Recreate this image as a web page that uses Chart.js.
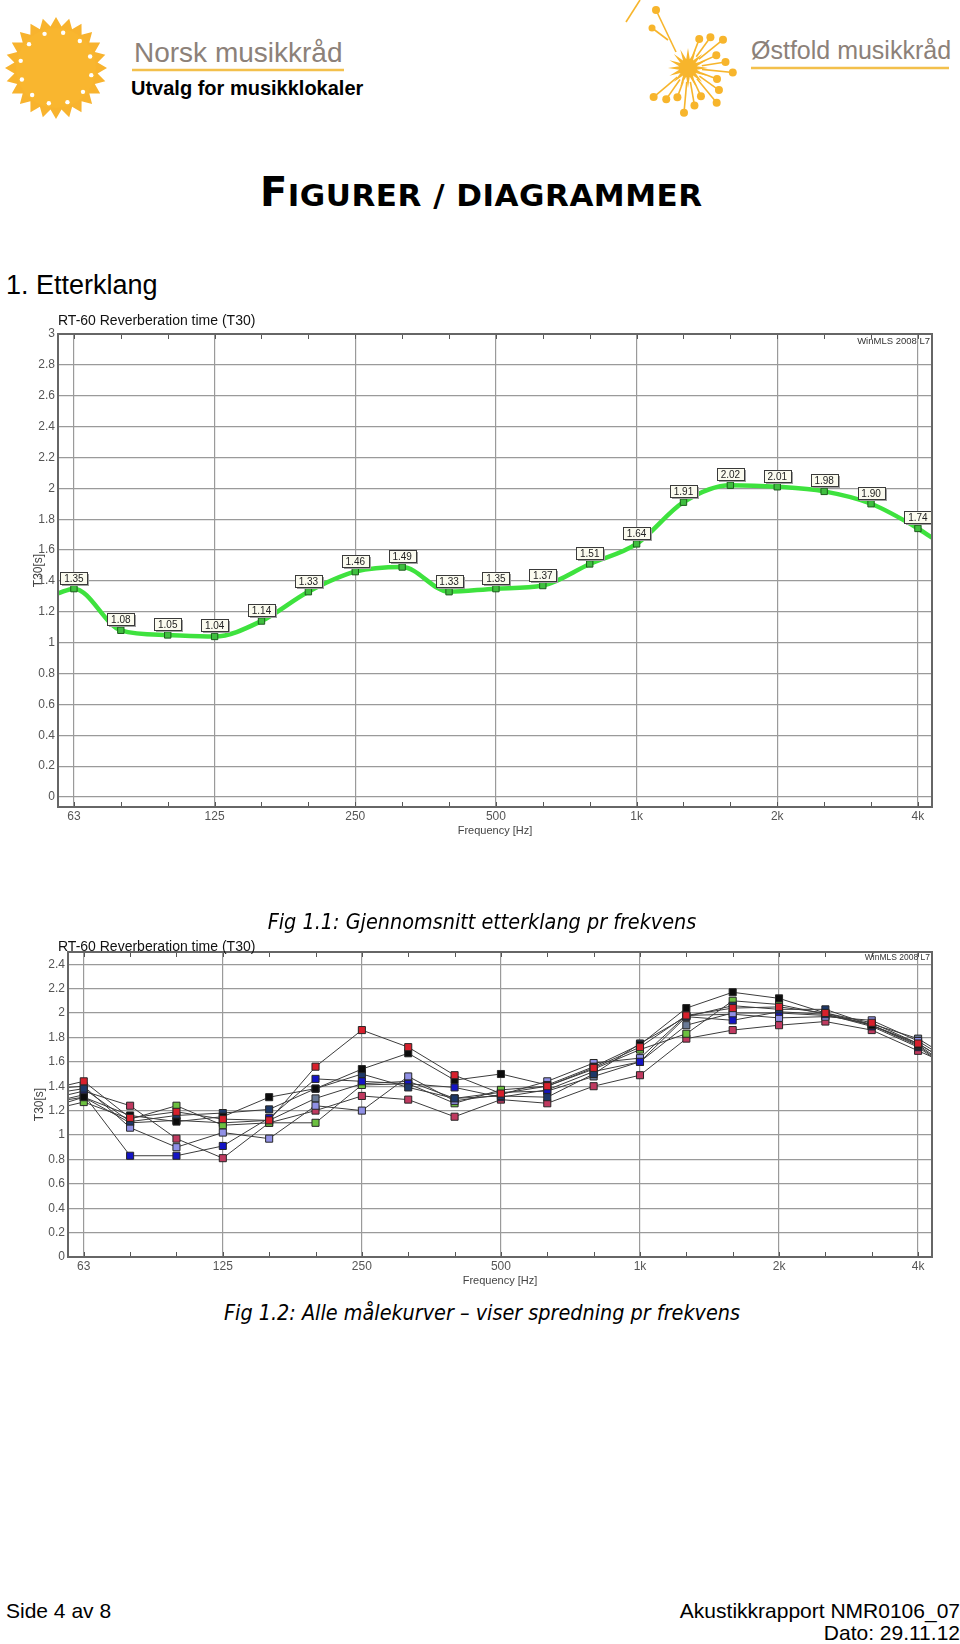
<!DOCTYPE html>
<html>
<head>
<meta charset="utf-8">
<script src="https://cdn.jsdelivr.net/npm/chart.js@4/dist/chart.umd.min.js"></script>
<style>
  body { margin: 0; background: #fff; }
  #page { position: relative; width: 960px; height: 1644px; overflow: hidden; background: #fff;
          font-family: "Liberation Sans", Arial, sans-serif; color: #000; }
  .t { position: absolute; white-space: nowrap; line-height: 1; transform: translateY(-50%); }
  .cap { left: 2px; width: 960px; text-align: center; font-style: italic; font-size: 21.4px;
         font-family: "DejaVu Sans Condensed", "DejaVu Sans", sans-serif; }
  .ct { font-size: 14px; color: #111; left: 58px; }
  .mls { font-size: 9.5px; color: #333; }
  .foot { font-size: 21px; }
  .head { font-family: "DejaVu Sans", Verdana, sans-serif; font-weight: bold; font-size: 31px; letter-spacing: 0.5px; }
  .head b { font-size: 40px; }
  canvas { position: absolute; left: 0; }
</style>
</head>
<body>
<div id="page">
  <svg id="logos" width="960" height="130" style="position:absolute;left:0;top:0"></svg>

  <div class="t" style="left:134px;top:53px;font-size:28px;color:#8c8179">Norsk musikkråd</div>
  <div class="t" style="left:131px;top:88px;font-size:20px;font-weight:bold">Utvalg for musikklokaler</div>
  <div class="t" style="left:751px;top:50px;font-size:25px;color:#8c8179">Østfold musikkråd</div>

  <div class="t head" style="left:260px;top:192px"><b>F</b>IGURER / DIAGRAMMER</div>
  <div class="t" style="left:6px;top:285px;font-size:27px">1. Etterklang</div>

  <canvas id="avgChart" width="960" height="545" style="top:300px"></canvas>
  <canvas id="allChart" width="960" height="370" style="top:930px"></canvas>

  <div class="t ct" style="top:320px">RT-60 Reverberation time (T30)</div>
  <div class="t mls" style="right:30px;top:341px">WinMLS 2008 L7</div>
  <div class="t cap" style="top:922px">Fig 1.1: Gjennomsnitt etterklang pr frekvens</div>

  <div class="t ct" style="top:946px">RT-60 Reverberation time (T30)</div>
  <div class="t mls" style="right:30px;top:957px;font-size:8.5px">WinMLS 2008 L7</div>
  <div class="t cap" style="top:1313px">Fig 1.2: Alle målekurver – viser spredning pr frekvens</div>

  <div class="t foot" style="left:6px;top:1610px">Side 4 av 8</div>
  <div class="t foot" style="right:0;top:1610px">Akustikkrapport NMR0106_07</div>
  <div class="t foot" style="right:0;top:1632px">Dato: 29.11.12</div>
</div>

<script>
// ── Data ─────────────────────────────────────────────────
// 1/3-octave bands, 63 Hz .. 4 kHz (x = band index)
const bands = ['63','80','100','125','160','200','250','315','400','500','630','800','1k','1.25k','1.6k','2k','2.5k','3.15k','4k'];
const xTickLabels = ['63','','','125','','','250','','','500','','','1k','','','2k','','','4k'];
const xMin = -0.34, xMax = 18.3;

const yTicksAvg = [0,0.2,0.4,0.6,0.8,1,1.2,1.4,1.6,1.8,2,2.2,2.4,2.6,2.8,3];
const yTicksAll = [0,0.2,0.4,0.6,0.8,1,1.2,1.4,1.6,1.8,2,2.2,2.4];

// Fig 1.1 average T30 [s]
const avgT30  = [1.35,1.08,1.05,1.04,1.14,1.33,1.46,1.49,1.33,1.35,1.37,1.51,1.64,1.91,2.02,2.01,1.98,1.90,1.74];
const avgEdge = [1.32, 1.68];   // where the curve meets the left / right frame

// Fig 1.2 individual measurements T30 [s]
const mRed      = [1.44,1.14,1.19,1.13,1.12,1.56,1.86,1.72,1.49,1.34,1.40,1.55,1.72,1.98,2.04,2.05,2.00,1.92,1.75];
const mBlack    = [1.31,1.16,1.11,1.15,1.31,1.38,1.54,1.67,1.45,1.50,1.41,1.56,1.74,2.04,2.17,2.12,2.00,1.90,1.74];
const mNavy     = [1.38,1.11,1.16,1.18,1.21,1.38,1.50,1.39,1.30,1.32,1.31,1.50,1.75,1.97,2.06,2.03,2.03,1.90,1.73];
const mBlue     = [1.33,0.83,0.83,0.91,1.14,1.46,1.44,1.42,1.39,1.31,1.37,1.52,1.60,1.97,1.94,2.01,1.99,1.89,1.72];
const mLavender = [1.40,1.06,0.90,1.02,0.97,1.24,1.20,1.48,1.28,1.33,1.44,1.59,1.63,1.98,1.99,1.96,1.97,1.94,1.77];
const mGreen    = [1.27,1.13,1.24,1.08,1.10,1.10,1.41,1.42,1.26,1.37,1.40,1.54,1.70,1.83,2.10,2.07,1.99,1.90,1.75];
const mRose     = [1.36,1.24,0.97,0.81,1.10,1.20,1.32,1.29,1.15,1.29,1.26,1.40,1.49,1.79,1.86,1.90,1.93,1.86,1.69];
const mSteel    = [1.31,1.10,1.12,1.10,1.12,1.30,1.42,1.44,1.30,1.35,1.36,1.48,1.60,1.90,2.00,2.00,1.98,1.91,1.79];
// curve ends at the left / right frame
const edgeLeft  = [1.41,1.27,1.36,1.30,1.39,1.24,1.33,1.29];
const edgeRight = [1.68,1.66,1.65,1.64,1.70,1.68,1.64,1.72];

const series = [
  { vals: mRed,      color: '#d8202c' },
  { vals: mBlack,    color: '#0c0c0c' },
  { vals: mNavy,     color: '#1d3868' },
  { vals: mBlue,     color: '#1414c4' },
  { vals: mLavender, color: '#9090e6' },
  { vals: mGreen,    color: '#6cc040' },
  { vals: mRose,     color: '#c03a60' },
  { vals: mSteel,    color: '#6a7a96' }
];

// ── Logos (decoration) ───────────────────────────────────
(function drawLogos() {
  const svg = document.getElementById('logos');
  const ns = 'http://www.w3.org/2000/svg';
  const el = (tag, attrs) => { const e = document.createElementNS(ns, tag); for (const k in attrs) e.setAttribute(k, attrs[k]); svg.appendChild(e); return e; };
  // sun
  let pts = [];
  for (let i = 0; i < 48; i++) {
    const a = i * Math.PI / 24, r = i % 2 ? 42 : 51;
    pts.push((56 + r * Math.cos(a)).toFixed(1) + ',' + (68 + r * Math.sin(a)).toFixed(1));
  }
  el('polygon', { points: pts.join(' '), fill: '#f8b32e' });
  el('circle', { cx: 56, cy: 68, r: 40, fill: '#f9b62f' });
  for (let i = 0; i < 12; i++) {
    const a = i * Math.PI / 6 + 0.2;
    el('circle', { cx: 56 + 36 * Math.cos(a), cy: 68 + 36 * Math.sin(a), r: 2.2, fill: '#fff' });
  }
  el('line', { x1: 132, y1: 70, x2: 344, y2: 70, stroke: '#f3c04c', 'stroke-width': 2.5 });
  el('line', { x1: 751, y1: 68, x2: 949, y2: 68, stroke: '#f3c04c', 'stroke-width': 2.5 });
  // dandelion
  const cx = 688, cy = 68;
  pts = [];
  for (let i = 0; i < 32; i++) {
    const a = i * Math.PI / 16, r = i % 2 ? 9 : 20;
    pts.push((cx + r * Math.cos(a)).toFixed(1) + ',' + (cy + r * Math.sin(a)).toFixed(1));
  }
  el('polygon', { points: pts.join(' '), fill: '#f7b52c' });
  for (let i = 0; i < 15; i++) {
    const a = -1.2 + i * 0.26, r = 31 + (i % 3) * 7;
    const ex = cx + r * Math.cos(a), ey = cy + r * Math.sin(a);
    el('line', { x1: cx + 14 * Math.cos(a), y1: cy + 14 * Math.sin(a), x2: ex, y2: ey, stroke: '#f7b52c', 'stroke-width': 1.6 });
    el('circle', { cx: ex, cy: ey, r: 4, fill: '#f7b52c' });
  }
  el('line', { x1: 676, y1: 52, x2: 656, y2: 10, stroke: '#f7b52c', 'stroke-width': 1.6 });
  el('circle', { cx: 656, cy: 10, r: 4, fill: '#f7b52c' });
  el('line', { x1: 626, y1: 22, x2: 640, y2: 0, stroke: '#f7b52c', 'stroke-width': 1.6 });
  el('line', { x1: 668, y1: 40, x2: 652, y2: 28, stroke: '#f7b52c', 'stroke-width': 1.6 });
  el('circle', { cx: 652, cy: 28, r: 3.5, fill: '#f7b52c' });
})();

// ── Plugins ──────────────────────────────────────────────
const framePlugin = {
  id: 'frame',
  afterDraw(chart) {
    const { ctx, chartArea: a, scales: { x } } = chart;
    ctx.save();
    ctx.strokeStyle = '#555';
    ctx.lineWidth = 1;
    bands.forEach((_, i) => {
      const px = Math.round(x.getPixelForValue(i)) + 0.5;
      ctx.beginPath();
      ctx.moveTo(px, a.top); ctx.lineTo(px, a.top + 5);
      ctx.moveTo(px, a.bottom); ctx.lineTo(px, a.bottom - 5);
      ctx.stroke();
    });
    ctx.strokeStyle = '#666';
    ctx.lineWidth = 2;
    ctx.strokeRect(a.left, a.top, a.right - a.left, a.bottom - a.top);
    ctx.restore();
  }
};

const valueLabels = {
  id: 'valueLabels',
  afterDatasetsDraw(chart) {
    const ctx = chart.ctx;
    const meta = chart.getDatasetMeta(0);
    ctx.save();
    ctx.font = '10px "Liberation Sans", Arial, sans-serif';
    ctx.textAlign = 'center';
    ctx.textBaseline = 'middle';
    avgT30.forEach((v, i) => {
      const pt = meta.data[i + 1];
      const w = 27, h = 12, bx = Math.round(pt.x - w / 2) + 0.5, by = Math.round(pt.y - 17) + 0.5;
      ctx.fillStyle = '#a0a0a0';
      ctx.fillRect(bx + 1.5, by + 1.5, w, h);
      ctx.fillStyle = '#fbfbef';
      ctx.fillRect(bx, by, w, h);
      ctx.strokeStyle = '#3a3a3a';
      ctx.lineWidth = 1;
      ctx.strokeRect(bx, by, w, h);
      ctx.fillStyle = '#222';
      ctx.fillText(v.toFixed(2), pt.x, by + h / 2 + 0.5);
    });
    ctx.restore();
  }
};

// ── Shared options ───────────────────────────────────────
function makeOptions(yMin, yMax, yTicks, yWidth, xHeight, titlePad, padding) {
  const tickFont = { family: '"Liberation Sans", Arial, sans-serif', size: 12 };
  return {
    responsive: false,
    animation: false,
    layout: { padding },
    plugins: { legend: { display: false }, tooltip: { enabled: false } },
    scales: {
      x: {
        type: 'linear', min: xMin, max: xMax,
        afterBuildTicks: s => { s.ticks = bands.map((_, i) => ({ value: i })); },
        afterFit: s => { s.height = xHeight; },
        ticks: { autoSkip: false, maxRotation: 0, padding: 2, color: '#555', font: tickFont,
                 callback: v => xTickLabels[v] },
        grid: { drawTicks: false, lineWidth: 1.2,
                color: c => (c.tick && xTickLabels[c.tick.value]) ? '#9a9a9a' : 'rgba(0,0,0,0)' },
        border: { display: false },
        title: { display: true, text: 'Frequency [Hz]', color: '#444',
                 font: { family: '"Liberation Sans", Arial, sans-serif', size: 11 }, padding: { top: 0, bottom: 2 } }
      },
      y: {
        min: yMin, max: yMax,
        afterBuildTicks: s => { s.ticks = yTicks.map(v => ({ value: v })); },
        afterFit: s => { s.width = yWidth; },
        ticks: { padding: 3, color: '#555', font: tickFont, callback: v => String(+v.toFixed(1)) },
        grid: { drawTicks: false, color: '#9a9a9a', lineWidth: 1.2 },
        border: { display: false },
        title: { display: true, text: 'T30[s]', color: '#444',
                 font: { family: '"Liberation Sans", Arial, sans-serif', size: 12 }, padding: { top: titlePad, bottom: 0 } }
      }
    }
  };
}

const withEdges = (vals, l, r) =>
  [{ x: xMin, y: l }].concat(vals.map((v, i) => ({ x: i, y: v })), [{ x: xMax, y: r }]);
const edgeRadius = (r, n) => c => (c.dataIndex === 0 || c.dataIndex === n + 1) ? 0 : r;

// ── Fig 1.1 ──────────────────────────────────────────────
new Chart(document.getElementById('avgChart').getContext('2d'), {
  type: 'line',
  data: {
    datasets: [{
      data: withEdges(avgT30, avgEdge[0], avgEdge[1]),
      borderColor: '#3ee23e', borderWidth: 4.5, cubicInterpolationMode: 'monotone',
      pointStyle: 'rect', pointRadius: edgeRadius(4.5, avgT30.length),
      pointBackgroundColor: '#3fbf3f', pointBorderColor: '#1d5c1d', pointBorderWidth: 1
    }]
  },
  options: makeOptions(-0.065, 3, yTicksAvg, 58, 33, 31, { top: 34, right: 28, bottom: 5, left: 0 }),
  plugins: [framePlugin, valueLabels]
});

// ── Fig 1.2 ──────────────────────────────────────────────
new Chart(document.getElementById('allChart').getContext('2d'), {
  type: 'line',
  data: {
    datasets: series.map((s, k) => ({
      data: withEdges(s.vals, edgeLeft[k], edgeRight[k]),
      borderColor: '#3c3c3c', borderWidth: 1, tension: 0,
      pointStyle: 'rect', pointRadius: edgeRadius(5, s.vals.length),
      pointBackgroundColor: s.color, pointBorderColor: '#262626', pointBorderWidth: 1
    }))
  },
  options: makeOptions(0, 2.5, yTicksAll, 68, 33, 32, { top: 22, right: 28, bottom: 10, left: 0 }),
  plugins: [framePlugin]
});
</script>
</body>
</html>
